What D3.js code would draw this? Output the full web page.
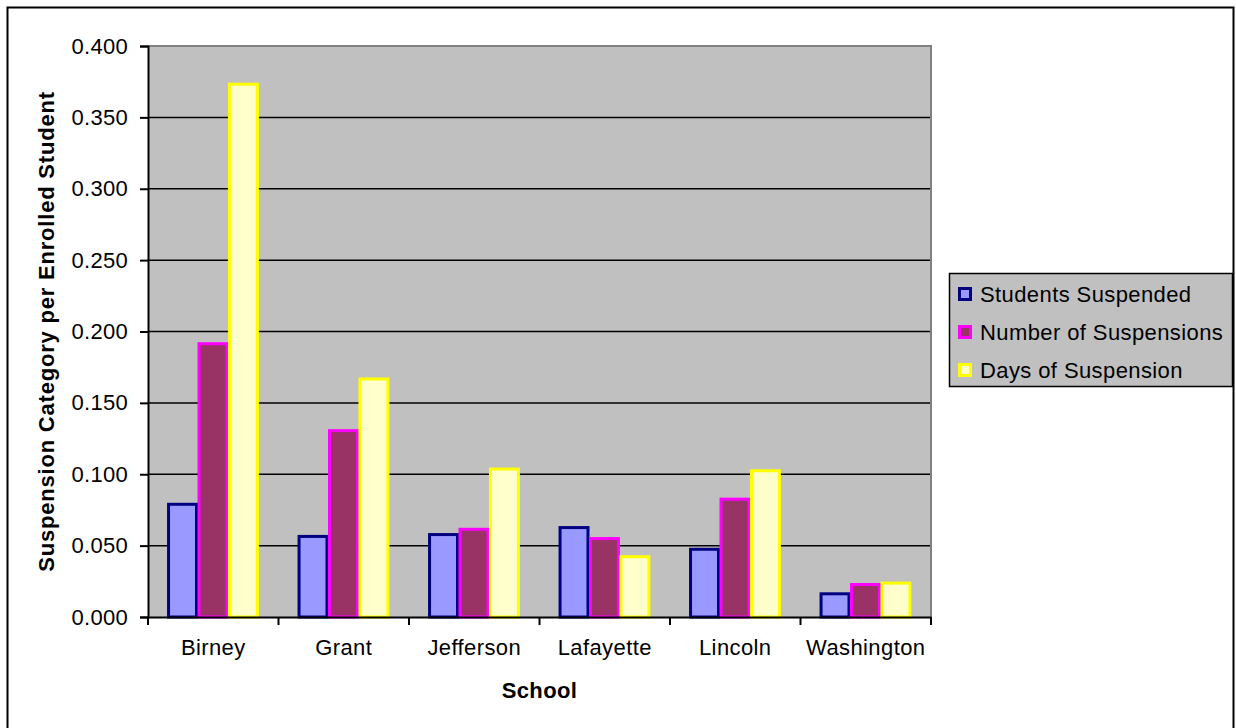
<!DOCTYPE html>
<html>
<head>
<meta charset="utf-8">
<script src="https://cdn.jsdelivr.net/npm/d3@7"></script>
<style>
  body { margin: 0; background: #fff; }
  text { font-family: "Liberation Sans", Arial, sans-serif; fill: #000; }
</style>
</head>
<body>
<div id="chart-area"></div>
<script>
// data
var schools = ["Birney", "Grant", "Jefferson", "Lafayette", "Lincoln", "Washington"];
var seriesNames = ["Students Suspended", "Number of Suspensions", "Days of Suspension"];
var studentsSuspended = [0.080, 0.0575, 0.0588, 0.0637, 0.0485, 0.0173];
var numberOfSuspensions = [0.1925, 0.1316, 0.0625, 0.056, 0.0836, 0.0238];
var daysOfSuspension = [0.3743, 0.1678, 0.1047, 0.0433, 0.1035, 0.0248];
var yTicks = [0, 0.05, 0.1, 0.15, 0.2, 0.25, 0.3, 0.35, 0.4];

var fills = ["#9999FF", "#993366", "#FFFFCC"];
var strokes = ["#000080", "#FF00FF", "#FFFF00"];
var allSeries = [studentsSuspended, numberOfSuspensions, daysOfSuspension];

var svg = d3.select("#chart-area")
    .append("svg")
    .attr("width", 1236)
    .attr("height", 728);

// outer frame (bottom edge runs off the picture)
svg.append("rect")
    .attr("x", 7.5).attr("y", 7.5)
    .attr("width", 1226).attr("height", 740)
    .attr("fill", "#fff")
    .attr("stroke", "#000")
    .attr("stroke-width", 2);

// plot box
var pLeft = 148, pRight = 931, pTop = 46, pBottom = 617;

var x0 = d3.scaleBand().domain(schools).range([pLeft, pRight]);
var bw = x0.bandwidth();
var x1 = d3.scaleBand().domain(seriesNames).range([bw * 0.146, bw * 0.846]);
var y = d3.scaleLinear().domain([0, 0.4]).range([pBottom, pTop]);

// plot area
svg.append("rect")
    .attr("x", pLeft).attr("y", pTop)
    .attr("width", pRight - pLeft).attr("height", pBottom - pTop)
    .attr("fill", "#C0C0C0");

// grid
svg.selectAll(".grid")
    .data(yTicks.filter(function(t) { return t > 0 && t < 0.4; }))
    .enter().append("line")
    .attr("x1", pLeft).attr("x2", pRight)
    .attr("y1", function(d) { return y(d); })
    .attr("y2", function(d) { return y(d); })
    .attr("stroke", "#000")
    .attr("stroke-width", 1.5);

// gray border top + right
svg.append("path")
    .attr("d", "M" + pLeft + "," + pTop + "H" + pRight + "V" + pBottom)
    .attr("fill", "none")
    .attr("stroke", "#808080")
    .attr("stroke-width", 2);

// bars
var rows = [];
schools.forEach(function(s, i) {
    seriesNames.forEach(function(n, j) {
        rows.push({school: s, series: n, j: j, value: allSeries[j][i]});
    });
});

var sw = 3;
svg.selectAll(".bar")
    .data(rows)
    .enter().append("rect")
    .attr("class", "bar")
    .attr("x", function(d) { return x0(d.school) + x1(d.series) + sw / 2; })
    .attr("y", function(d) { return y(d.value) + sw / 2; })
    .attr("width", x1.bandwidth() - sw + 0.5)
    .attr("height", function(d) { return Math.max(0, pBottom - y(d.value) - sw / 2); })
    .attr("fill", function(d) { return fills[d.j]; })
    .attr("stroke", function(d) { return strokes[d.j]; })
    .attr("stroke-width", sw);

// y axis
var yAxis = svg.append("g")
    .attr("transform", "translate(" + pLeft + ",0)")
    .call(d3.axisLeft(y).tickValues(yTicks).tickFormat(d3.format(".3f")).tickSize(8).tickPadding(12));
yAxis.select(".domain").attr("stroke", "#000").attr("stroke-width", 2);
yAxis.selectAll(".tick line").attr("stroke", "#000").attr("stroke-width", 2);
yAxis.selectAll("text").style("font-size", "22px").style("letter-spacing", "0.3px").attr("fill", "#000");

// x axis
var xAxis = svg.append("g")
    .attr("transform", "translate(0," + pBottom + ")")
    .call(d3.axisBottom(x0).tickSize(0).tickPadding(22));
xAxis.select(".domain").attr("stroke", "#000").attr("stroke-width", 2);
xAxis.selectAll("text").style("font-size", "22px").style("letter-spacing", "0.4px").attr("fill", "#000");
xAxis.selectAll(".sep")
    .data(schools.concat(["end"]))
    .enter().append("line")
    .attr("x1", function(d, i) { return pLeft + i * bw; })
    .attr("x2", function(d, i) { return pLeft + i * bw; })
    .attr("y1", 0).attr("y2", 8)
    .attr("stroke", "#000")
    .attr("stroke-width", 2);

// axis titles
svg.append("text")
    .attr("x", (pLeft + pRight) / 2).attr("y", 698)
    .attr("text-anchor", "middle")
    .style("font-size", "22px").style("font-weight", "bold")
    .style("letter-spacing", "0.4px")
    .text("School");

svg.append("text")
    .attr("transform", "translate(54," + ((pTop + pBottom) / 2) + ") rotate(-90)")
    .attr("text-anchor", "middle")
    .style("font-size", "22px").style("font-weight", "bold")
    .style("letter-spacing", "0.8px")
    .text("Suspension Category per Enrolled Student");

// legend
var legend = svg.append("g");
legend.append("rect")
    .attr("x", 949.5).attr("y", 273.5)
    .attr("width", 283).attr("height", 113)
    .attr("fill", "#C0C0C0")
    .attr("stroke", "#000")
    .attr("stroke-width", 1.5);

var items = legend.selectAll(".item")
    .data(seriesNames)
    .enter().append("g")
    .attr("transform", function(d, i) { return "translate(0," + (294 + i * 38) + ")"; });
items.append("rect")
    .attr("x", 959.5).attr("y", -5.5)
    .attr("width", 11).attr("height", 11)
    .attr("fill", function(d, i) { return fills[i]; })
    .attr("stroke", function(d, i) { return strokes[i]; })
    .attr("stroke-width", 3);
items.append("text")
    .attr("x", 980).attr("y", 8)
    .style("font-size", "22px")
    .style("letter-spacing", "0.4px")
    .text(function(d) { return d; });
</script>
</body>
</html>
